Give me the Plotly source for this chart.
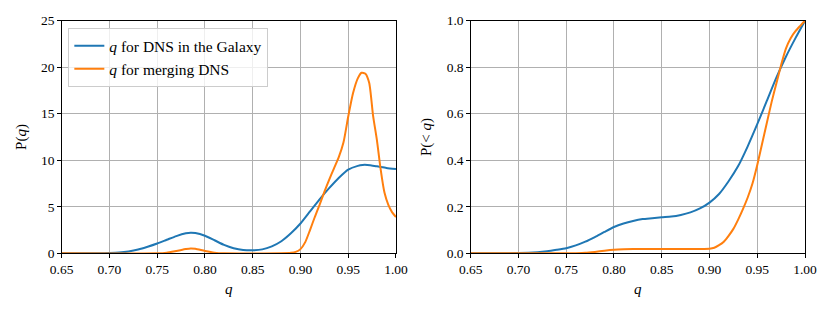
import plotly.graph_objects as go

# ---- data ----
q_pdf_gal = [0.65, 0.69, 0.70, 0.71, 0.72, 0.73, 0.74, 0.75, 0.76, 0.77, 0.78, 0.785, 0.79, 0.80,
             0.81, 0.82, 0.83, 0.84, 0.85, 0.86, 0.87, 0.88, 0.89, 0.90, 0.91, 0.92, 0.93, 0.94,
             0.95, 0.96, 0.965, 0.97, 0.98, 0.99, 1.00]
p_pdf_gal = [0, 0.01, 0.03, 0.08, 0.2, 0.4, 0.7, 1.05, 1.45, 1.85, 2.15, 2.22, 2.18, 1.88,
             1.4, 0.9, 0.55, 0.36, 0.32, 0.42, 0.75, 1.3, 2.15, 3.2, 4.5, 5.8, 7.0, 8.1,
             9.0, 9.4, 9.5, 9.5, 9.35, 9.18, 9.05]

q_pdf_mrg = [0.65, 0.75, 0.76, 0.77, 0.78, 0.785, 0.79, 0.80, 0.81, 0.82, 0.88, 0.89, 0.895,
             0.90, 0.905, 0.91, 0.915, 0.92, 0.925, 0.93, 0.935, 0.94, 0.945, 0.95, 0.955, 0.96,
             0.964, 0.968, 0.972, 0.976, 0.98, 0.984, 0.988, 0.992, 0.996, 1.00]
p_pdf_mrg = [0, 0.0, 0.07, 0.25, 0.45, 0.52, 0.48, 0.25, 0.07, 0.0, 0.0, 0.05, 0.15,
             0.45, 1.2, 2.5, 3.9, 5.2, 6.6, 7.9, 9.1, 10.3, 11.9, 14.7, 17.2, 18.8,
             19.4, 19.3, 18.3, 14.8, 12.2, 9.0, 6.5, 5.2, 4.4, 3.9]

q_cdf_gal = [0.65, 0.70, 0.72, 0.73, 0.74, 0.75, 0.76, 0.77, 0.78, 0.79, 0.80, 0.81, 0.82,
             0.83, 0.84, 0.85, 0.86, 0.87, 0.88, 0.89, 0.90, 0.91, 0.92, 0.93, 0.94, 0.95,
             0.96, 0.97, 0.98, 0.99, 1.00]
f_cdf_gal = [0, 0.001, 0.005, 0.009, 0.015, 0.022, 0.034, 0.05, 0.07, 0.092, 0.113, 0.128, 0.139,
             0.147, 0.151, 0.155, 0.158, 0.165, 0.176, 0.193, 0.218, 0.255, 0.31, 0.375, 0.46, 0.555,
             0.655, 0.755, 0.845, 0.925, 1.0]

q_cdf_mrg = [0.65, 0.75, 0.76, 0.77, 0.78, 0.79, 0.80, 0.81, 0.82, 0.90, 0.905, 0.91, 0.915,
             0.92, 0.925, 0.93, 0.935, 0.94, 0.945, 0.95, 0.955, 0.96, 0.965, 0.97, 0.975,
             0.98, 0.985, 0.99, 0.995, 1.00]
f_cdf_mrg = [0, 0, 0.0005, 0.002, 0.006, 0.011, 0.015, 0.017, 0.018, 0.02, 0.024, 0.035, 0.05,
             0.075, 0.105, 0.145, 0.19, 0.24, 0.3, 0.38, 0.47, 0.56, 0.65, 0.73, 0.81,
             0.88, 0.925, 0.955, 0.978, 1.0]

labels = ["<i>q</i> for DNS in the Galaxy", "<i>q</i> for merging DNS"]
colors = ["#1f77b4", "#ff7f0e"]
x_ticks = [0.65, 0.70, 0.75, 0.80, 0.85, 0.90, 0.95, 1.00]

FONT = "Liberation Serif, DejaVu Serif, serif"

fig = go.Figure()
fig.add_trace(go.Scatter(x=q_pdf_gal, y=p_pdf_gal, mode="lines", name=labels[0],
                         line=dict(color=colors[0], width=2, shape="spline", smoothing=0.6),
                         xaxis="x", yaxis="y"))
fig.add_trace(go.Scatter(x=q_pdf_mrg, y=p_pdf_mrg, mode="lines", name=labels[1],
                         line=dict(color=colors[1], width=2, shape="spline", smoothing=0.6),
                         xaxis="x", yaxis="y"))
fig.add_trace(go.Scatter(x=q_cdf_gal, y=f_cdf_gal, mode="lines", showlegend=False,
                         line=dict(color=colors[0], width=2, shape="spline", smoothing=0.6),
                         xaxis="x2", yaxis="y2"))
fig.add_trace(go.Scatter(x=q_cdf_mrg, y=f_cdf_mrg, mode="lines", showlegend=False,
                         line=dict(color=colors[1], width=2, shape="spline", smoothing=0.6),
                         xaxis="x2", yaxis="y2"))

axis_common = dict(showgrid=True, gridcolor="#b0b0b0", gridwidth=0.8,
                   showline=True, linecolor="black", linewidth=1, mirror=True,
                   ticks="outside", ticklen=3.5, tickcolor="black", tickwidth=0.8,
                   zeroline=False, automargin=False,
                   tickfont=dict(family=FONT, size=13.5, color="black"))

# figure sits inside the page body's 8px default margin
W, H = 822, 304

fig.update_layout(
    width=W, height=H,
    margin=dict(l=0, r=0, t=0, b=0),
    paper_bgcolor="white", plot_bgcolor="white",
    font=dict(family=FONT, color="black", size=13),
    xaxis=dict(domain=[0.0653, 0.4720], range=[0.65, 1.0], tickvals=x_ticks,
               tickformat=".2f", anchor="y",
               title=dict(text="<i>q</i>", font=dict(family=FONT, size=15), standoff=7),
               **axis_common),
    yaxis=dict(domain=[0.1931, 0.9582], range=[0, 25], tickvals=[0, 5, 10, 15, 20, 25],
               anchor="x",
               title=dict(text="P(<i>q</i>)", font=dict(family=FONT, size=15), standoff=10),
               **axis_common),
    xaxis2=dict(domain=[0.5629, 0.9696], range=[0.65, 1.0], tickvals=x_ticks,
                tickformat=".2f", anchor="y2",
                title=dict(text="<i>q</i>", font=dict(family=FONT, size=15), standoff=7),
                **axis_common),
    yaxis2=dict(domain=[0.1931, 0.9582], range=[0, 1.0],
                tickvals=[0, 0.2, 0.4, 0.6, 0.8, 1.0], tickformat=".1f", anchor="x2",
                title=dict(text="P(&lt; <i>q</i>)", font=dict(family=FONT, size=15), standoff=11),
                **axis_common),
    legend=dict(x=0.0734, y=0.934, xanchor="left", yanchor="top",
                bgcolor="rgba(255,255,255,0.8)", bordercolor="#cccccc", borderwidth=1,
                font=dict(family=FONT, size=15.5, color="black"),
                tracegroupgap=0, itemwidth=30),
    showlegend=True,
)

fig.write_html("out.html")
